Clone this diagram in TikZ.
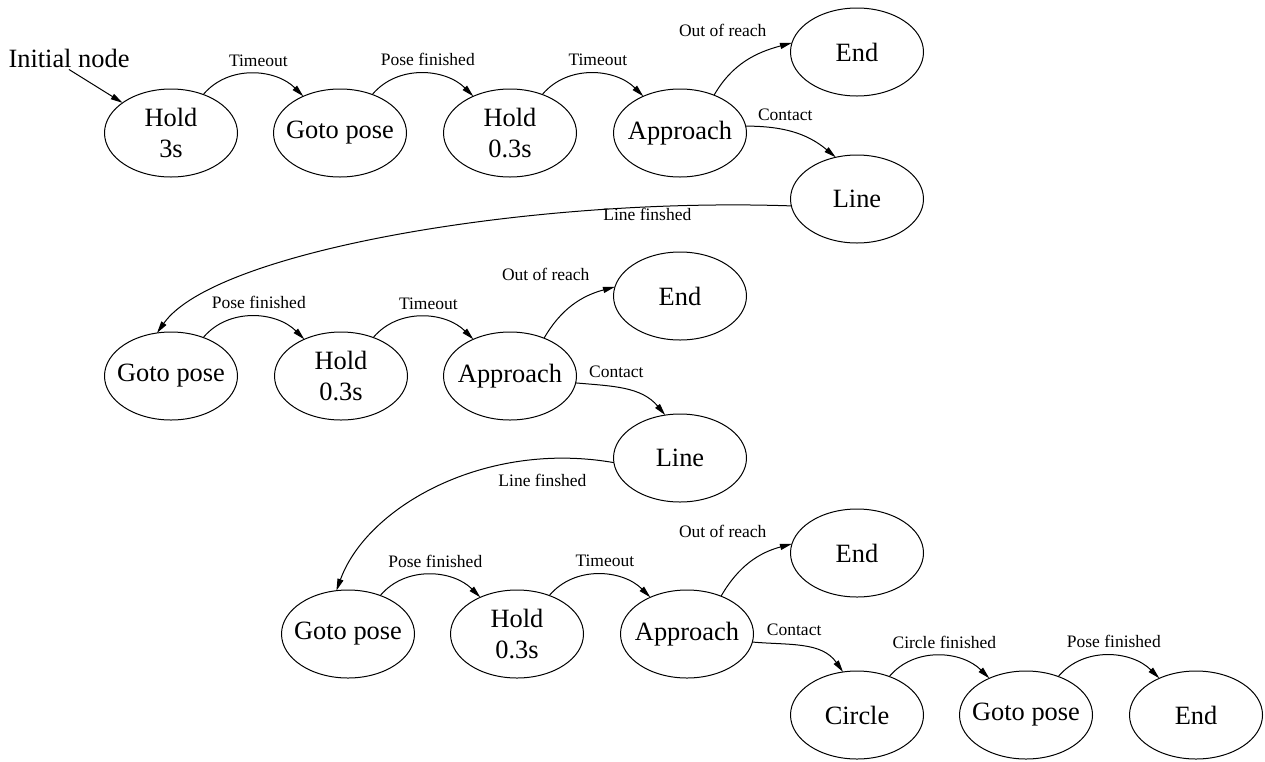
\documentclass[tikz,border=0pt]{standalone}
\usepackage{fontspec}
\setmainfont{Liberation Serif}
\usetikzlibrary{shapes.geometric, arrows.meta, positioning}
\newcommand{\statefont}{\fontsize{26.4pt}{30.5pt}\selectfont}
\newcommand{\edgefont}{\fontsize{17.5pt}{19pt}\selectfont}

\begin{document}
\begin{tikzpicture}[
  x=1pt, y=1pt,
  state/.style={
    ellipse, draw, line width=1pt,
    minimum width=133pt, minimum height=88pt,
    inner xsep=-8pt, inner ysep=0pt, outer sep=0pt,
    font=\statefont, align=center},
  initlbl/.style={font=\statefont, inner sep=2pt},
  tr/.style={-{Triangle[length=12pt, width=6pt]}, line width=1pt},
  hop/.style={out=50, in=135},
  lbl/.style={font=\edgefont, inner sep=1pt},
  toplbl/.style={lbl, above=6pt, xshift=6pt},
  oor/.style={lbl, pos=1, above left=5pt and 24pt}
]
  \useasboundingbox (0,0) rectangle (1265,-761);
  % first run
  \node[state] (hold1) at (171,-133) {Hold\\3s};
  \node[initlbl] (init) at (69,-58) {Initial node};
  \node[state, right=36pt of hold1] (goto1) {Goto pose};
  \node[state, right=37pt of goto1] (hold2) {Hold\\0.3s};
  \node[state, right=37pt of hold2] (appr1) {Approach};
  \node[state, right=44pt of appr1, yshift=81pt] (end1) {End};
  \node[state, right=44pt of appr1, yshift=-66pt] (line1) {Line};
  % second run
  \node[state] (goto2) at (171,-376) {Goto pose};
  \node[state, right=37pt of goto2] (hold3) {Hold\\0.3s};
  \node[state, right=36pt of hold3] (appr2) {Approach};
  \node[state, right=37pt of appr2, yshift=80pt] (end2) {End};
  \node[state, right=37pt of appr2, yshift=-82pt] (line2) {Line};
  % third run
  \node[state] (goto3) at (348,-634) {Goto pose};
  \node[state, right=36pt of goto3] (hold4) {Hold\\0.3s};
  \node[state, right=37pt of hold4] (appr3) {Approach};
  \node[state, right=37pt of appr3, yshift=81pt] (end3) {End};
  \node[state, right=37pt of appr3, yshift=-81pt] (circ) {Circle};
  \node[state, right=36pt of circ] (goto4) {Goto pose};
  \node[state, right=37pt of goto4] (end4) {End};
  % Transitions
  \draw[tr] (init.south) -- (hold1);
  \draw[tr] (hold1) to[hop] node[toplbl] {Timeout} (goto1);
  \draw[tr] (goto1) to[hop] node[toplbl] {Pose finished} (hold2);
  \draw[tr] (hold2) to[hop] node[toplbl] {Timeout} (appr1);
  \draw[tr] (appr1.48) to[out=60, in=195] node[oor] {Out of reach} (end1.172);
  \draw[tr] (appr1.6) to[out=0, in=140]
    node[lbl, pos=0.4, above=8pt] {Contact} (line1.117);
  \draw[tr] (line1.186) to[out=178, in=55, out distance=260pt, in distance=100pt]
    node[lbl, pos=0.18, below] {Line finshed} (goto2.108);
  \draw[tr] (goto2) to[hop] node[toplbl] {Pose finished} (hold3);
  \draw[tr] (hold3) to[hop] node[toplbl] {Timeout} (appr2);
  \draw[tr] (appr2.48) to[out=60, in=195] node[oor] {Out of reach} (end2.172);
  \draw[tr] (appr2.-6) to[out=-5, in=130]
    node[lbl, pos=0.4, above=8pt] {Contact} (line2.109);
  \draw[tr] (line2.184) to[out=170, in=70, out distance=130pt, in distance=90pt]
    node[lbl, pos=0.19, below=14pt] {Line finshed} (goto3.105);
  \draw[tr] (goto3) to[hop] node[toplbl] {Pose finished} (hold4);
  \draw[tr] (hold4) to[hop] node[toplbl] {Timeout} (appr3);
  \draw[tr] (appr3.48) to[out=60, in=195] node[oor] {Out of reach} (end3.172);
  \draw[tr] (appr3.-7) to[out=-5, in=125]
    node[lbl, pos=0.4, above=8pt] {Contact} (circ.108);
  \draw[tr] (circ) to[hop] node[toplbl] {Circle finished} (goto4);
  \draw[tr] (goto4) to[hop] node[toplbl] {Pose finished} (end4);
\end{tikzpicture}
\end{document}
